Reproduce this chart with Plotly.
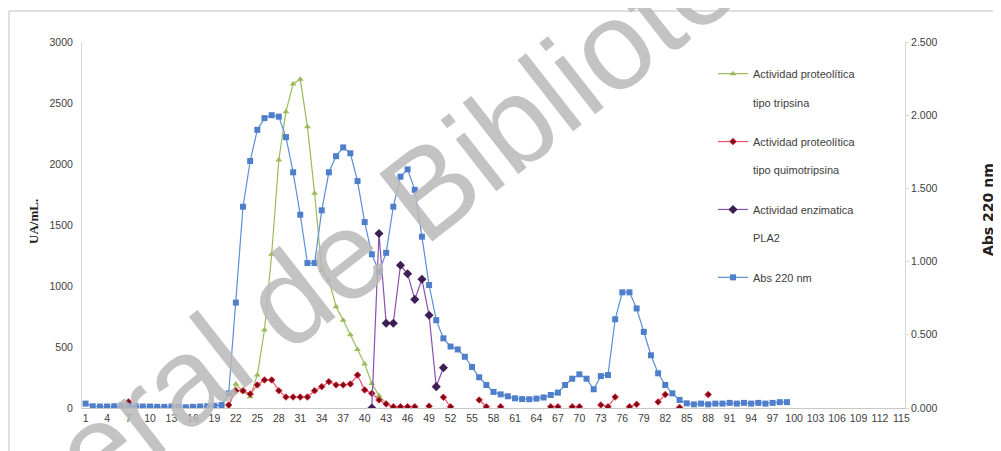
import plotly.graph_objects as go

# ---------------- data ----------------
fractions = list(range(1, 100))
tick_labels = [str(v) for v in range(1, 116, 3)]

abs220 = [0.030, 0.012, 0.010, 0.010, 0.012, 0.015, 0.015, 0.012, 0.010, 0.010,
          0.008, 0.008, 0.010, 0.008, 0.005, 0.008, 0.010, 0.012, 0.015, 0.020,
          0.100, 0.720, 1.375, 1.687, 1.900, 1.980, 2.000, 1.990, 1.850, 1.610,
          1.320, 0.990, 0.990, 1.350, 1.610, 1.720, 1.780, 1.740, 1.550, 1.270,
          1.050, 0.930, 1.060, 1.375, 1.580, 1.630, 1.490, 1.170, 0.840, 0.600,
          0.476, 0.420, 0.400, 0.350, 0.280, 0.210, 0.157, 0.110, 0.093, 0.080,
          0.066, 0.061, 0.060, 0.064, 0.072, 0.089, 0.105, 0.157, 0.200, 0.230,
          0.200, 0.128, 0.218, 0.225, 0.606, 0.790, 0.790, 0.680, 0.520, 0.360,
          0.237, 0.157, 0.100, 0.055, 0.032, 0.025, 0.030, 0.025, 0.030, 0.030,
          0.035, 0.030, 0.035, 0.030, 0.035, 0.030, 0.035, 0.040, 0.040]

tripsina = [None] * 20 + [
    0, 197, 134, 93, 270, 639, 1260, 2033, 2429, 2656,
    2694, 2306, 1760, 1130, 1050, 830, 720, 600, 480, 360,
    200, 100, 40, 10, 0] + [None] * 54

quimotripsina = [None] * 6 + [50] + [None] * 13 + [
    25, 142, 142, 115, 189, 230, 230, 142, 90, 90,
    90, 90, 142, 175, 216, 189, 189, 197, 270, 148,
    120, 66, 33, 10, 10, 10, 10, None, 15, None,
    88, 10, None, None, None, 66, 10, None, 10, None,
    None, None, None, None, None, 10, 10, None, 10, 10,
    None, None, 25, 10, 90, None, 10, 30, None, None,
    50, 110, None, 5, None, None, None, 110, None, None,
    None, None, None, None, None, None, None, None, None]

pla2 = [None] * 40 + [0, 1430, 695, 695, 1170, 1100, 890, 1055, 760, 175, 330] + [None] * 48

names = ["Actividad proteolítica<br><br>tipo tripsina",
         "Actividad proteolítica<br><br>tipo quimotripsina",
         "Actividad enzimatica<br><br>PLA2",
         "Abs 220 nm"]

# ---------------- geometry helpers (page pixels -> paper) ----------------
OFF = 8                      # page offset of the plot div (body margin)
W, H = 1001, 451
L, R, T, B = 82 - OFF, 905 - OFF, 42 - OFF, 408 - OFF   # plot area in figure px
def px(x_page):
    return (x_page - OFF - L) / (R - L)
def py(y_page):
    return (B - (y_page - OFF)) / (B - T)

fig = go.Figure()

fig.add_trace(go.Scatter(
    x=fractions, y=tripsina, name=names[0], mode="lines+markers",
    line=dict(color="#9BBB59", width=1.2),
    marker=dict(symbol="triangle-up", size=6, color="#9BBB59"),
    legendgroup="a", connectgaps=False))

fig.add_trace(go.Scatter(
    x=fractions, y=quimotripsina, name=names[1], mode="lines+markers",
    line=dict(color="#F0506A", width=1.2),
    marker=dict(symbol="diamond", size=5, color="#7A0C18",
                line=dict(color="#E0283C", width=1)),
    legendgroup="b", connectgaps=False))

fig.add_trace(go.Scatter(
    x=fractions, y=pla2, name=names[2], mode="lines+markers",
    line=dict(color="#8A4FB0", width=1.2),
    marker=dict(symbol="diamond", size=7, color="#3E1F55"),
    legendgroup="c", connectgaps=False))

fig.add_trace(go.Scatter(
    x=fractions, y=abs220, name=names[3], mode="lines+markers", yaxis="y2",
    line=dict(color="#5B8FD6", width=1.2),
    marker=dict(symbol="square", size=6, color="#4F7FCB"),
    legendgroup="d"))

tick_font = dict(family="Liberation Sans Narrow, Liberation Sans, Arial", size=10.5, color="#404040")

fig.update_layout(
    width=W, height=H,
    margin=dict(l=L, r=W - R, t=T, b=H - B, autoexpand=False),
    paper_bgcolor="white", plot_bgcolor="white",
    showlegend=True,
    legend=dict(x=px(713), y=py(60), xanchor="left", yanchor="top",
                font=dict(family="Liberation Sans Narrow, Liberation Sans, Arial", size=11, color="#404040"),
                tracegroupgap=22, itemwidth=30, valign="top",
                bgcolor="rgba(0,0,0,0)"),
    xaxis=dict(range=[0.5, 115.5], tickmode="array",
               tickvals=list(range(1, 116, 3)), ticktext=tick_labels,
               showgrid=False, zeroline=False, showline=True,
               linecolor="#C8C8C8", linewidth=1, ticks="",
               tickfont=tick_font, automargin=False),
    yaxis=dict(range=[0, 3000], tickvals=[0, 500, 1000, 1500, 2000, 2500, 3000],
               showgrid=False, zeroline=False, showline=True,
               linecolor="#D9D9D9", linewidth=1, ticks="",
               tickfont=tick_font, automargin=False, ticklabelstandoff=6),
    yaxis2=dict(range=[0, 2.5], overlaying="y", side="right",
                tickvals=[0, 0.5, 1.0, 1.5, 2.0, 2.5], tickformat=".3f",
                showgrid=False, zeroline=False, showline=True,
                linecolor="#D9D9D9", linewidth=1, ticks="outside",
                ticklen=3, tickcolor="#D9D9D9",
                tickfont=tick_font, automargin=False),
)

# axis titles
fig.add_annotation(text="<b>UA/mL.</b>", xref="paper", yref="paper",
                   x=px(33), y=py(222), xanchor="center", yanchor="middle",
                   textangle=-90, showarrow=False,
                   font=dict(family="Liberation Serif, Times New Roman", size=13, color="#202020"))
fig.add_annotation(text="<b>Abs 220 nm</b>", xref="paper", yref="paper",
                   x=px(988), y=py(210), xanchor="center", yanchor="middle",
                   textangle=-90, showarrow=False,
                   font=dict(family="DejaVu Sans", size=14, color="#202020"))

# chart-area frame
fig.add_shape(type="rect", xref="paper", yref="paper",
              x0=px(9), x1=px(1030), y0=py(480), y1=py(11),
              line=dict(color="#BEBEBE", width=1), fillcolor="rgba(0,0,0,0)", layer="below")

# watermark
fig.add_annotation(text="General de Bibliotecas", xref="paper", yref="paper",
                   x=px(378), y=py(228), xanchor="center", yanchor="middle",
                   textangle=-38, showarrow=False,
                   font=dict(family="Liberation Sans, Arial", size=125,
                             color="rgba(185,185,185,0.85)"))

fig.write_html("out.html")
